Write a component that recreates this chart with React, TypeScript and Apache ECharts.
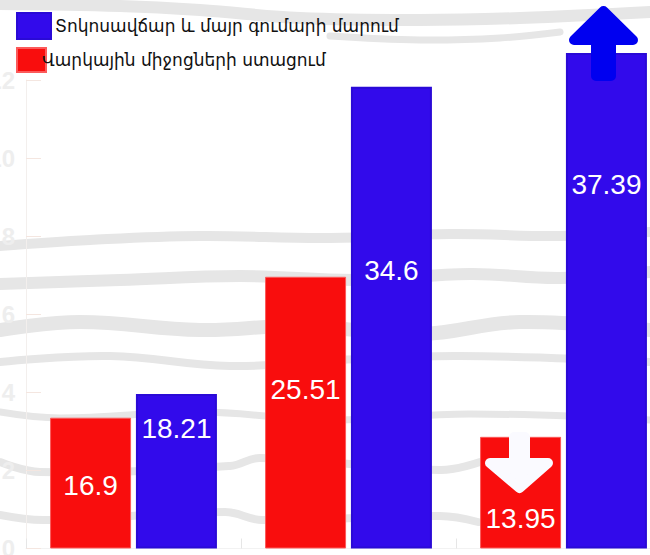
import React, { useEffect, useRef } from 'react';
import * as echarts from 'echarts';

const categories = ['1', '2', '3'];
const repaymentName = 'Տոկոսավճար և մայր գումարի մարում';
const receiptName = 'Վարկային միջոցների ստացում';
const receiptValues = [3.35, 6.96, 2.86];
const receiptLabels = ['16.9', '25.51', '13.95'];
const repaymentValues = [3.96, 11.83, 12.69];
const repaymentLabels = ['18.21', '34.6', '37.39'];

// label vertical offsets (px from bar top) — styling, not data
const receiptLabelDy = [68, 113, 82];
const repaymentLabelDy = [35, 184, 131];

const RED = '#F90D0D';
const BLUE = '#320AEB';
const TEX = '#e6e6e6';

function texture() {
  const bands: any[] = [
    { pts: [[0, 4], [120, 6], [200, 10], [300, 18], [420, 20], [520, 18], [650, 12]], w: 12 },
    { pts: [[330, 36], [420, 40], [500, 38], [560, 32]], w: 7 },
    { pts: [[0, 246], [90, 240], [200, 236], [330, 238], [450, 234], [560, 236], [650, 232]], w: 10 },
    { pts: [[0, 284], [120, 280], [240, 276], [360, 280], [470, 274], [560, 278], [650, 272]], w: 12 },
    { pts: [[0, 330], [80, 322], [200, 330], [300, 326], [420, 334], [520, 322], [650, 330]], w: 14 },
    { pts: [[0, 362], [110, 356], [230, 366], [340, 360], [460, 356], [650, 362]], w: 8 },
    { pts: [[0, 412], [60, 418], [200, 412], [330, 420], [470, 414], [650, 420]], w: 7 },
    { pts: [[0, 462], [40, 472], [230, 466], [260, 458], [440, 470], [480, 462]], w: 8 },
    { pts: [[0, 515], [45, 520], [225, 512], [262, 520], [440, 516], [478, 522]], w: 8 },
  ];
  return bands.map((b) => ({
    type: 'polyline',
    z: 0,
    silent: true,
    shape: { points: b.pts, smooth: 0.4 },
    style: { stroke: TEX, lineWidth: b.w, fill: null, lineCap: 'round' },
  }));
}

export default function App() {
  const ref = useRef<HTMLDivElement>(null);
  useEffect(() => {
    if (!ref.current) return;
    const chart = echarts.init(ref.current, null, { renderer: 'svg' });
    const option: any = {
      animation: false,
      backgroundColor: '#ffffff',
      grid: { left: 26, top: 80, width: 645, height: 468.5, containLabel: false, outerBoundsMode: 'none' },
      legend: [
        {
          data: [repaymentName],
          left: 11,
          top: 7,
          itemWidth: 34,
          itemHeight: 26,
          icon: 'rect',
          textStyle: { fontFamily: 'DejaVu Sans', fontSize: 17, color: '#111', padding: [0, 0, 0, -1] },
          selectedMode: false,
        },
        {
          data: [receiptName],
          left: 11,
          top: 42,
          itemWidth: 29,
          itemHeight: 24,
          icon: 'rect',
          textStyle: { fontFamily: 'DejaVu Sans', fontSize: 17, color: '#111', padding: [0, 0, 0, -9] },
          selectedMode: false,
        },
      ],
      xAxis: {
        type: 'category',
        data: categories,
        axisLine: { show: true, lineStyle: { color: '#f2f2f2', width: 1 } },
        axisTick: { show: true, inside: true, length: 10, lineStyle: { color: '#e6e6e6' } },
        axisLabel: { show: false },
      },
      yAxis: {
        type: 'value',
        min: 0,
        max: 12,
        interval: 2,
        splitLine: { show: false },
        axisLine: { show: true, lineStyle: { color: '#f3efed', width: 1 } },
        axisTick: { show: true, inside: true, length: 15, lineStyle: { color: '#f4e6e0' } },
        axisLabel: {
          margin: 11,
          color: '#eeeeee',
          fontSize: 24,
          fontWeight: 'bold',
          fontFamily: 'Liberation Sans',
        },
      },
      series: [
        {
          name: receiptName,
          type: 'bar',
          barWidth: 81,
          barGap: '6%',
          clip: false,
          z: 2,
          itemStyle: { color: RED, borderColor: '#fb5a5a', borderWidth: 1 },
          data: receiptValues.map((v, i) => ({
            value: v,
            label: {
              show: true,
              formatter: receiptLabels[i],
              position: ['50%', receiptLabelDy[i]],
              align: 'center',
              verticalAlign: 'middle',
              color: '#ffffff',
              fontSize: 28,
              fontFamily: 'Liberation Sans',
            },
          })),
        },
        {
          name: repaymentName,
          type: 'bar',
          barWidth: 81,
          barGap: '6%',
          clip: false,
          z: 2,
          itemStyle: { color: BLUE, borderColor: '#2a0ad6', borderWidth: 2 },
          data: repaymentValues.map((v, i) => ({
            value: v,
            label: {
              show: true,
              formatter: repaymentLabels[i],
              position: ['50%', repaymentLabelDy[i]],
              align: 'center',
              verticalAlign: 'middle',
              color: '#ffffff',
              fontSize: 28,
              fontFamily: 'Liberation Sans',
            },
          })),
        },
      ],
      graphic: [
        ...texture(),
        {
          type: 'polygon',
          z: 100,
          silent: true,
          shape: {
            points: [[603.5, 11], [633, 40], [611, 40], [611, 76], [596, 76], [596, 40], [574, 40]],
          },
          style: { fill: '#0000F0', stroke: '#0000F0', lineWidth: 10, lineJoin: 'round' },
        },
        {
          type: 'polygon',
          z: 100,
          silent: true,
          shape: {
            points: [[514, 437], [525, 437], [525, 463], [548, 463], [519.5, 488], [490, 463], [514, 463]],
          },
          style: { fill: '#FAFAFF', stroke: '#FAFAFF', lineWidth: 10, lineJoin: 'round' },
        },
        {
          type: 'rect',
          z: 101,
          silent: true,
          shape: { x: 509, y: 437, width: 21, height: 10 },
          style: { fill: '#FAFAFF' },
        },
      ],
    };
    chart.setOption(option);
    return () => chart.dispose();
  }, []);
  return (
    <div
      ref={ref}
      style={{ position: 'absolute', left: 0, top: 0, width: 650, height: 555 }}
    />
  );
}
